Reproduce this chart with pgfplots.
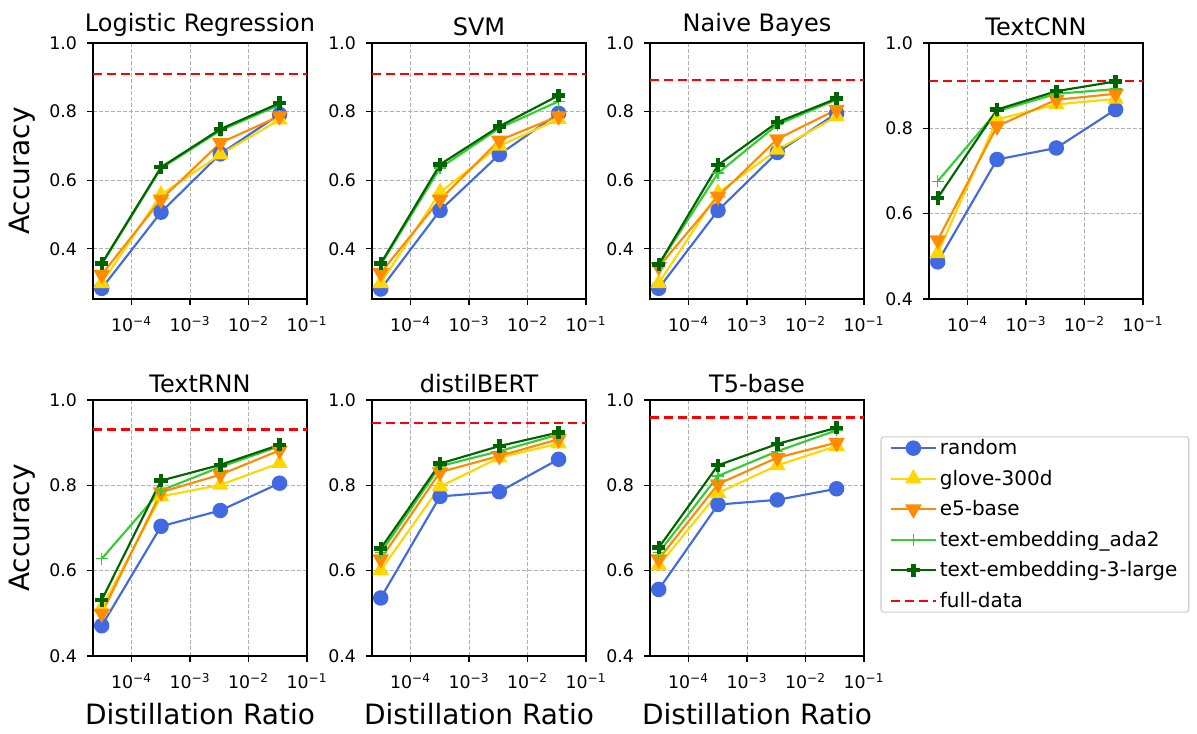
\documentclass[border=0pt]{standalone}
\usepackage{fontspec}
\setmainfont{DejaVu Sans}
\usepackage{pgfplots}
\usepackage{pgfplotstable}
\pgfplotsset{compat=1.18}

\definecolor{crandom}{RGB}{65,105,225}
\definecolor{cglove}{RGB}{255,215,0}
\definecolor{ce5}{RGB}{255,140,0}
\definecolor{cada}{RGB}{50,205,50}
\definecolor{clarge}{RGB}{0,100,0}
\definecolor{gridgray}{RGB}{176,176,176}
\definecolor{legframe}{RGB}{204,204,204}

% accuracy per distillation ratio, one table per model
\pgfplotstableread{
x       rnd   glove e5    ada   large
3.1e-5  0.285 0.300 0.325 0.355 0.357
3.2e-4  0.507 0.558 0.544 0.635 0.638
3.3e-3  0.677 0.675 0.709 0.745 0.749
3.4e-2  0.792 0.777 0.787 0.820 0.825
}\tabLR
\pgfplotstableread{
x       rnd   glove e5    ada   large
3.1e-5  0.283 0.300 0.330 0.354 0.357
3.2e-4  0.512 0.565 0.544 0.636 0.646
3.3e-3  0.675 0.700 0.716 0.752 0.757
3.4e-2  0.795 0.778 0.787 0.830 0.847
}\tabSVM
\pgfplotstableread{
x       rnd   glove e5    ada   large
3.1e-5  0.285 0.300 0.348 0.354 0.354
3.2e-4  0.512 0.563 0.553 0.621 0.644
3.3e-3  0.681 0.689 0.720 0.762 0.769
3.4e-2  0.795 0.786 0.806 0.835 0.838
}\tabNB
\pgfplotstableread{
x       rnd   glove e5    ada   large
3.1e-5  0.487 0.507 0.538 0.676 0.637
3.2e-4  0.727 0.821 0.805 0.840 0.844
3.3e-3  0.754 0.856 0.867 0.881 0.887
3.4e-2  0.844 0.869 0.881 0.892 0.910
}\tabCNN
\pgfplotstableread{
x       rnd   glove e5    ada   large
3.1e-5  0.471 0.513 0.500 0.628 0.531
3.2e-4  0.704 0.774 0.784 0.788 0.811
3.3e-3  0.741 0.801 0.825 0.843 0.848
3.4e-2  0.805 0.852 0.882 0.892 0.895
}\tabRNN
\pgfplotstableread{
x       rnd   glove e5    ada   large
3.1e-5  0.536 0.601 0.627 0.642 0.652
3.2e-4  0.774 0.797 0.831 0.845 0.851
3.3e-3  0.785 0.865 0.869 0.880 0.892
3.4e-2  0.861 0.898 0.908 0.919 0.924
}\tabBERT
\pgfplotstableread{
x       rnd   glove e5    ada   large
3.1e-5  0.556 0.612 0.627 0.642 0.654
3.2e-4  0.755 0.782 0.803 0.822 0.847
3.3e-3  0.766 0.847 0.865 0.880 0.897
3.4e-2  0.792 0.892 0.900 0.929 0.935
}\tabTfive

\pgfplotsset{
  accpanel/.style={
    scale only axis, width=160.5pt, height=192pt,
    xmin=2.2e-5, xmax=0.1,
    xtick={1e-4,1e-3,1e-2,1e-1},
    xticklabels={10\textsuperscript{−4},10\textsuperscript{−3},10\textsuperscript{−2},10\textsuperscript{−1}},
    xminorticks=false,
    ymax=1.0,
    ytick={0.4,0.6,0.8,1.0}, yticklabels={0.4,0.6,0.8,1.0},
    grid=major,
    major grid style={gridgray, dash pattern=on 3pt off 1.5pt, line width=0.6pt},
    axis line style={line width=0.8pt},
    tick style={line width=0.8pt, black},
    tick align=outside, major tick length=4.5pt,
    xtick pos=bottom, ytick pos=left,
    ticklabel style={font=\fontsize{13}{15}\selectfont},
    xticklabel style={yshift=-5pt},
    yticklabel style={xshift=-4pt},
    title style={font=\fontsize{18}{21}\selectfont, yshift=-4.5pt},
    label style={font=\fontsize{21}{24}\selectfont},
    ylabel style={at={(axis description cs:-0.33,0.5)}, anchor=center},
    xlabel style={at={(axis description cs:0.5,-0.228)}, anchor=center},
  },
  serRandom/.style={crandom, line width=1.6pt, mark=*, mark size=5pt},
  serGlove/.style={cglove, line width=1.6pt, mark=triangle*, mark size=5.6pt},
  serEfive/.style={ce5, line width=1.6pt, mark=triangle*, mark size=5.6pt, mark options={rotate=180}},
  serAda/.style={cada, line width=1.6pt, mark=+, mark size=4.5pt, mark options={line width=1pt}},
  serLarge/.style={clarge, line width=1.6pt, mark=+, mark size=5pt, mark options={line width=3.3pt}},
  serFull/.style={red, dash pattern=on 7pt off 3.5pt, line width=1.6pt, no marks},
}

\newcommand{\fivelines}[1]{%
  \addplot[serRandom] table[x=x, y=rnd] {#1};
  \addplot[serGlove] table[x=x, y=glove] {#1};
  \addplot[serEfive] table[x=x, y=e5] {#1};
  \addplot[serAda] table[x=x, y=ada] {#1};
  \addplot[serLarge] table[x=x, y=large] {#1};
}

\begin{document}
\begin{tikzpicture}
\path[use as bounding box] (0,0) rectangle (897.75pt,549.75pt);

\begin{semilogxaxis}[accpanel, at={(69.75pt,325.5pt)}, anchor=south west, ymin=0.254,
  title={Logistic Regression}, ylabel={Accuracy}]
\fivelines{\tabLR}
\addplot[serFull] coordinates {(2.2e-5,0.910) (0.1,0.910)};
\end{semilogxaxis}

\begin{semilogxaxis}[accpanel, at={(279pt,325.5pt)}, anchor=south west, ymin=0.254, title={SVM}]
\fivelines{\tabSVM}
\addplot[serFull] coordinates {(2.2e-5,0.910) (0.1,0.910)};
\end{semilogxaxis}

\begin{semilogxaxis}[accpanel, at={(487.5pt,325.5pt)}, anchor=south west, ymin=0.254, title={Naive Bayes}]
\fivelines{\tabNB}
\addplot[serFull] coordinates {(2.2e-5,0.892) (0.1,0.892)};
\end{semilogxaxis}

\begin{semilogxaxis}[accpanel, at={(696.75pt,325.5pt)}, anchor=south west, ymin=0.4, title={TextCNN}]
\fivelines{\tabCNN}
\addplot[serFull] coordinates {(2.2e-5,0.910) (0.1,0.910)};
\end{semilogxaxis}

\begin{semilogxaxis}[accpanel, at={(69.75pt,57.75pt)}, anchor=south west, ymin=0.4,
  title={TextRNN}, ylabel={Accuracy}, xlabel={Distillation Ratio}]
\fivelines{\tabRNN}
\addplot[serFull] coordinates {(2.2e-5,0.931) (0.1,0.931)};
\end{semilogxaxis}

\begin{semilogxaxis}[accpanel, at={(279pt,57.75pt)}, anchor=south west, ymin=0.4,
  title={distilBERT}, xlabel={Distillation Ratio}]
\fivelines{\tabBERT}
\addplot[serFull] coordinates {(2.2e-5,0.946) (0.1,0.946)};
\end{semilogxaxis}

\begin{semilogxaxis}[accpanel, at={(487.5pt,57.75pt)}, anchor=south west, ymin=0.4,
  title={T5-base}, xlabel={Distillation Ratio},
  legend cell align=left,
  legend image code/.code={
    \draw[mark repeat=2, mark phase=2, #1] plot coordinates {(0pt,0pt) (17pt,0pt) (34pt,0pt)};
  },
  legend style={at={(1.077,0.858)}, anchor=north west,
    font=\fontsize{15}{18}\selectfont, draw=legframe, line width=0.8pt,
    rounded corners=2pt, inner xsep=6.5pt, inner ysep=0pt, row sep=6pt,
    /tikz/every even column/.append style={column sep=7pt}}]
\fivelines{\tabTfive}
\addplot[serFull] coordinates {(2.2e-5,0.959) (0.1,0.959)};
\legend{random, glove-300d, e5-base, text-embedding\_ada2, text-embedding-3-large, full-data}
\end{semilogxaxis}
\end{tikzpicture}
\end{document}
